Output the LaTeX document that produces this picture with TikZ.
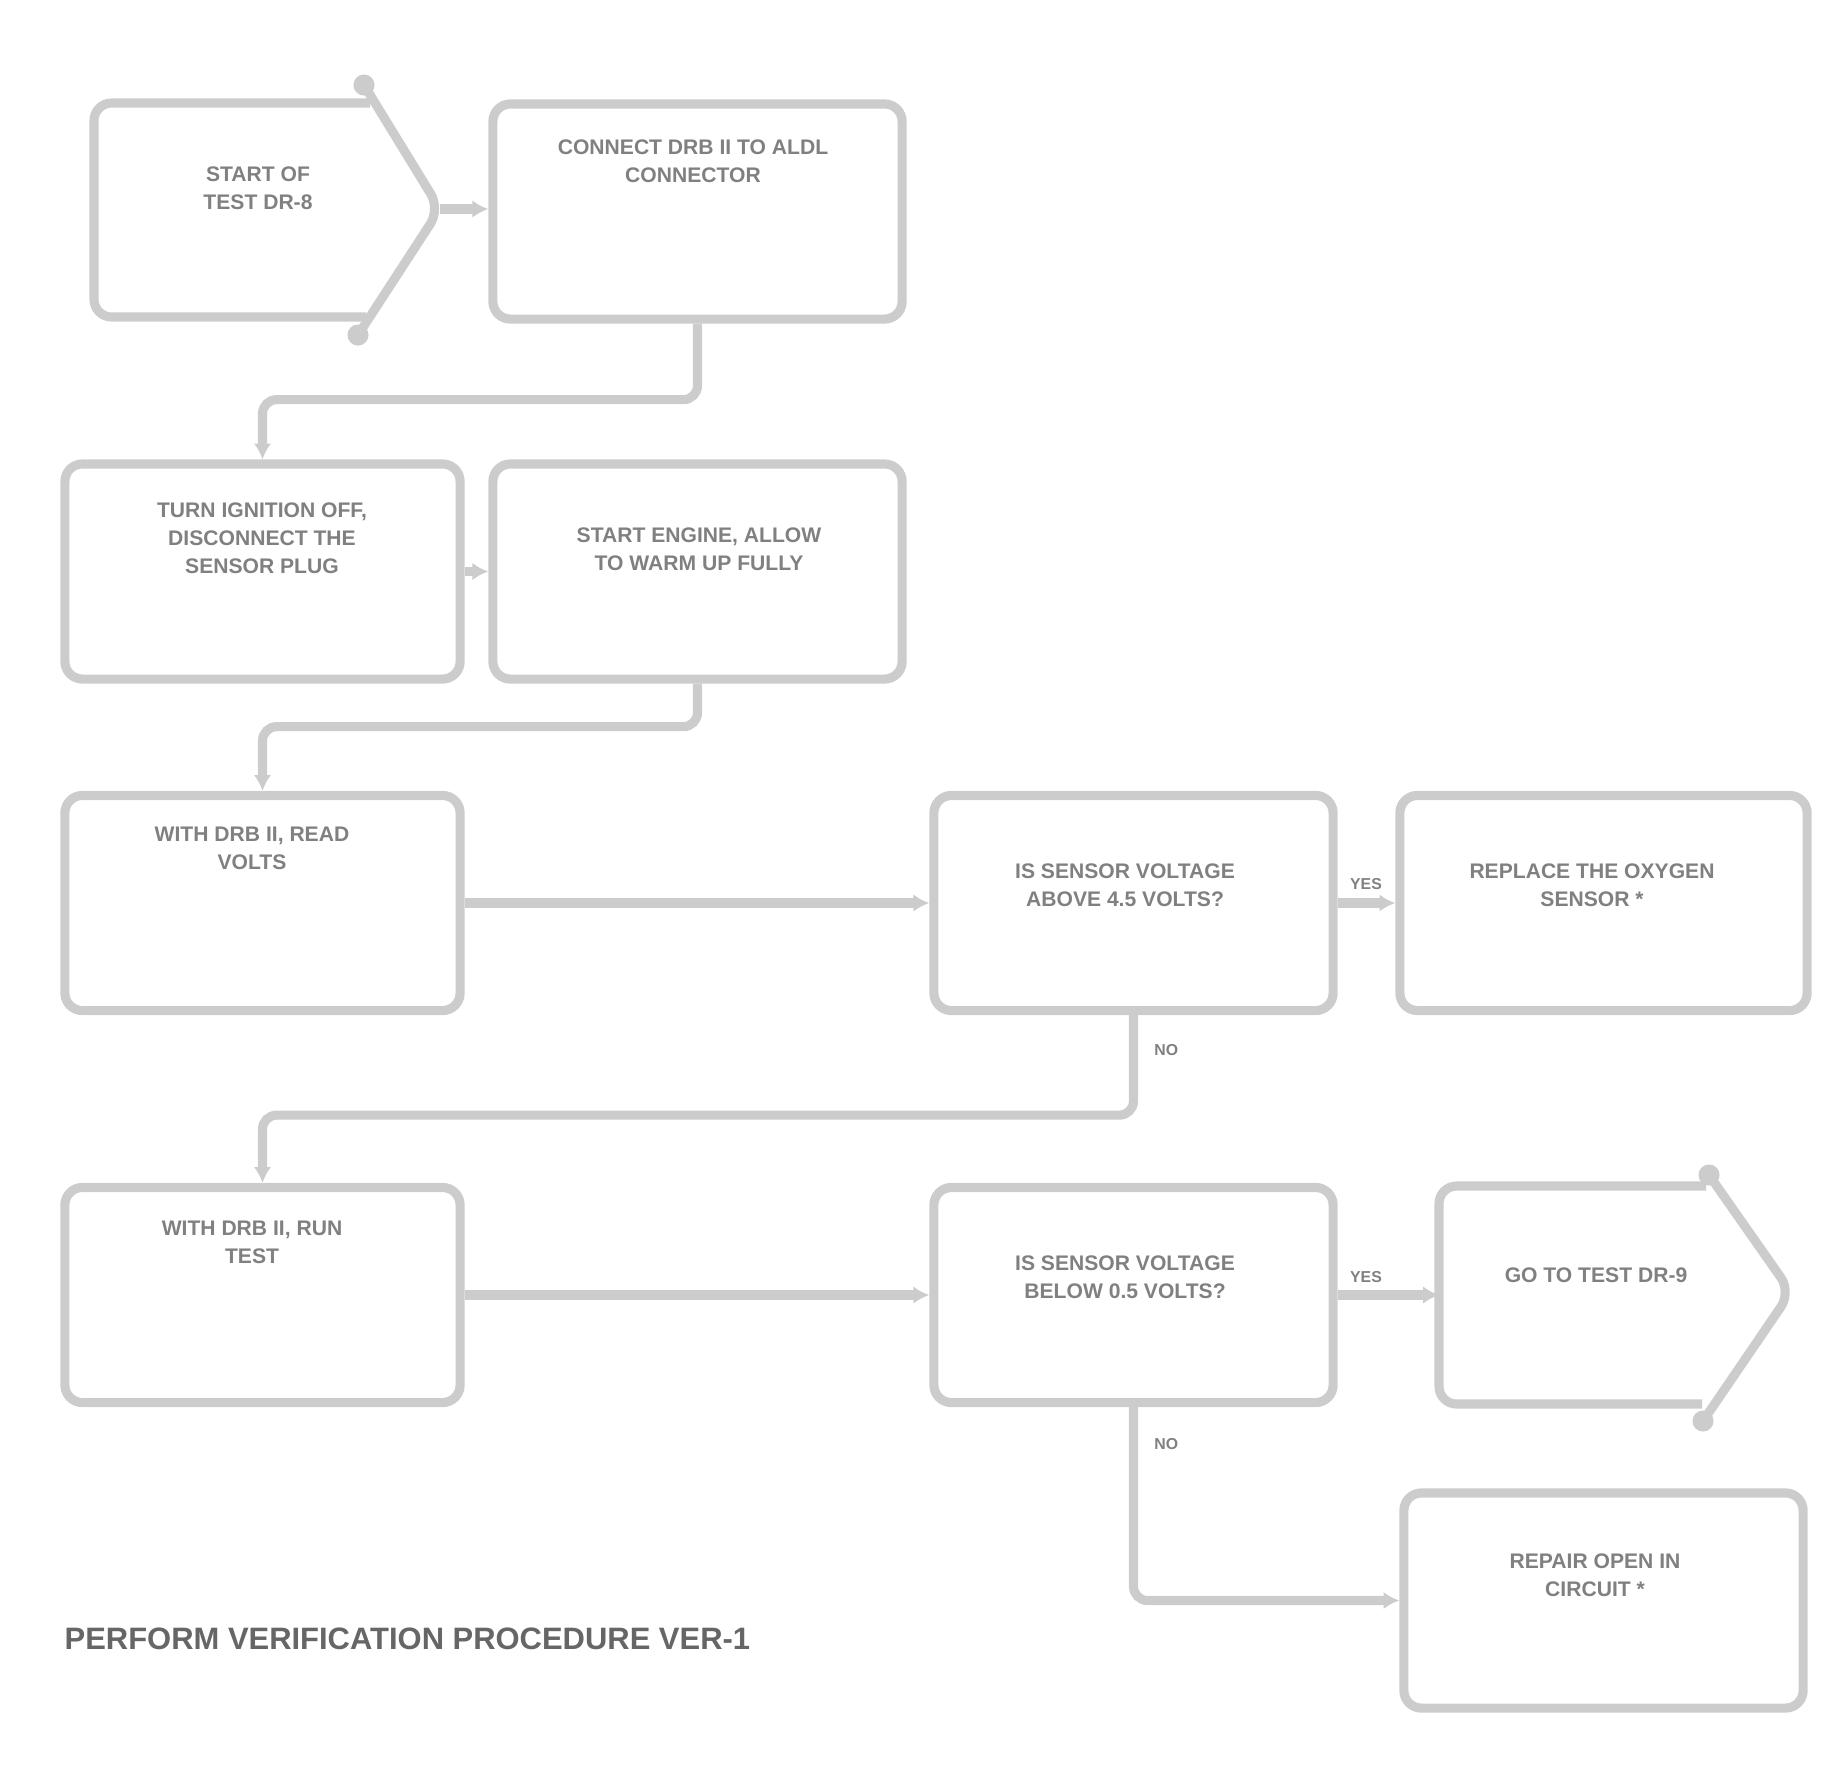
\documentclass[tikz,border=0pt]{standalone}
\usepackage{fontspec}
\setmainfont{Liberation Sans}
\usetikzlibrary{arrows.meta}
\definecolor{linegray}{gray}{0.80}
\definecolor{txtgray}{gray}{0.50}
\tikzset{
  box/.style={draw=linegray, line width=2.6pt, rounded corners=5pt, minimum height=2.15cm, inner sep=0pt},
  txt/.style={text=txtgray, font=\bfseries\fontsize{6}{8}\selectfont, align=center},
  yn/.style={text=txtgray, font=\bfseries\fontsize{4.5}{5}\selectfont},
  flow/.style={draw=linegray, line width=2.6pt, rounded corners=4pt, -{Latex[length=4.5pt,width=5pt]}},
  shapeline/.style={draw=linegray, line width=2.6pt, rounded corners=5pt}
}
\begin{document}
\begin{tikzpicture}[x=0.01cm, y=-0.01cm]
    \useasboundingbox (0,0) rectangle (1842,1781);
    % start and end arrows
    \draw[shapeline] (370,103) -- (94,103) -- (94,317) -- (366,317);
    \draw[shapeline] (364,85) -- (440,209) -- (358,335);
    \fill[linegray] (364,85) circle[radius=3pt] (358,335) circle[radius=3pt];
    \coordinate (Atip) at (440,209);
    \draw[shapeline] (1706,1186) -- (1439,1186) -- (1439,1404) -- (1702,1404);
    \draw[shapeline] (1709,1175) -- (1791,1292) -- (1703,1421);
    \fill[linegray] (1709,1175) circle[radius=3pt] (1703,1421) circle[radius=3pt];
    \coordinate (Jin) at (1439,1292);
    % test boxes
    \foreach \name/\x/\y/\w in {
        B/697.5/211.5/4.09,
        C/262.5/571.5/3.95,
        D/697.5/571.5/4.09,
        E/262.5/903/3.95,
        F/1133.5/903/3.99,
        G/1603.5/903/4.07,
        H/262.5/1295/3.95,
        I/1133.5/1295/3.99,
        K/1603.5/1600.5/3.99
    } {
        \node[box, minimum width=\w cm] (\name) at (\x,\y) {};
    }
    \node[txt] (Atxt) at (258,188) {START OF\\TEST DR-8};
    \node[txt] (Btxt) at (693,161) {CONNECT DRB II TO ALDL\\CONNECTOR};
    \node[txt] (Ctxt) at (262,538) {TURN IGNITION OFF,\\DISCONNECT THE\\SENSOR PLUG};
    \node[txt] (Dtxt) at (699,549) {START ENGINE, ALLOW\\TO WARM UP FULLY};
    \node[txt] (Etxt) at (252,848) {WITH DRB II, READ\\VOLTS};
    \node[txt] (Ftxt) at (1125,885) {IS SENSOR VOLTAGE\\ABOVE 4.5 VOLTS?};
    \node[txt] (Gtxt) at (1592,885) {REPLACE THE OXYGEN\\SENSOR *};
    \node[txt] (Htxt) at (252,1242) {WITH DRB II, RUN\\TEST};
    \node[txt] (Itxt) at (1125,1277) {IS SENSOR VOLTAGE\\BELOW 0.5 VOLTS?};
    \node[txt] (Jtxt) at (1596,1275) {GO TO TEST DR-9};
    \node[txt] (Ktxt) at (1595,1575) {REPAIR OPEN IN\\CIRCUIT *};
    % connectors
    \draw[flow] (Atip) -- (Atip -| B.west);
    \draw[flow] (B.south) -- ++(0,76) -| (C.north);
    \draw[flow] (C.east) -- (D.west);
    \draw[flow] (D.south) -- ++(0,43) -| (E.north);
    \draw[flow] (E.east) -- (F.west);
    \draw[flow] (F.east) -- (G.west);
    \draw[flow] (F.south) -- ++(0,100) -| (H.north);
    \draw[flow] (H.east) -- (I.west);
    \draw[flow] (I.east) -- (I.east -| Jin);
    \draw[flow] (I.south) |- (K.west);
    \node[yn] (yesF) at (1366,884) {YES};
    \node[yn] (yesI) at (1366,1277) {YES};
    \node[yn, anchor=west] (noF) at (1142,1050) {NO};
    \node[yn, anchor=west] (noI) at (1142,1444) {NO};
    \node[text=black!60, font=\bfseries\fontsize{8.8}{10}\selectfont, anchor=west, inner sep=0pt] (note) at (64,1639) {PERFORM VERIFICATION PROCEDURE VER-1};
\end{tikzpicture}
\end{document}
